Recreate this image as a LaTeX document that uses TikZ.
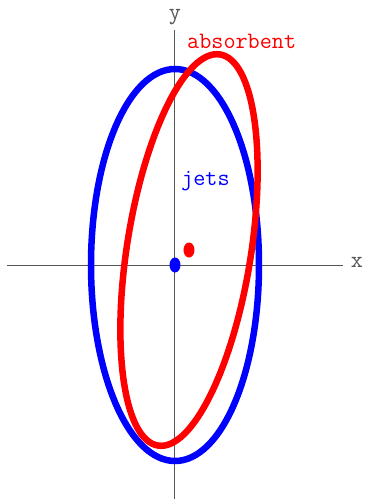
\documentclass[tikz,border=0pt]{standalone}
\definecolor{ejeGris}{HTML}{555555}
\definecolor{chorroAzul}{HTML}{0000FF}
\definecolor{absorbRojo}{HTML}{FF0000}
\usetikzlibrary{
	positioning,
	calc
}
\tikzset{
	eje/.style={
		draw=ejeGris,
		line width=1pt
	},
	chorro/.style={
		draw=chorroAzul,
		line width=6.5pt
	},
	absorbente/.style={
		draw=absorbRojo,
		line width=6.5pt
	},
	etiqueta/.style={
		font=\fontsize{23.5}{26}\selectfont\ttfamily,
		inner sep=0pt
	}
}

\begin{document}
\begin{tikzpicture}[x=1pt,y=1pt]
		\useasboundingbox (-175,-234) rectangle (192,265);
		\coordinate (O) at (0,0);
		\coordinate (R) at (14,15);
		% ejes
		\coordinate (xIzq) at (-168,0);
		\coordinate (xDer) at (168,0);
		\coordinate (yAba) at (0,-234);
		\coordinate (yArr) at (0,235);
		\draw[eje] (xIzq) -- (xDer);
		\draw[eje] (yAba) -- (yArr);
		\node[etiqueta, text=ejeGris, anchor=base] (ejeX) at (182,-2) {x};
		\node[etiqueta, text=ejeGris, anchor=base] (ejeY) at (0,246) {y};
		% contornos
		\draw[chorro] (O) ellipse [x radius=84, y radius=196];
		\draw[absorbente, rotate around={-9:(R)}] (R) ellipse [x radius=62, y radius=198];
		\fill[chorroAzul] (O) ellipse [x radius=5.5, y radius=7.5];
		\fill[absorbRojo] (R) ellipse [x radius=5.5, y radius=7.5];
		\node[etiqueta, text=absorbRojo, anchor=base west] (absorb) at (12,217) {absorbent};
		\node[etiqueta, text=chorroAzul, anchor=base west] (jets) at (6,80) {jets};
	\end{tikzpicture}
\end{document}
